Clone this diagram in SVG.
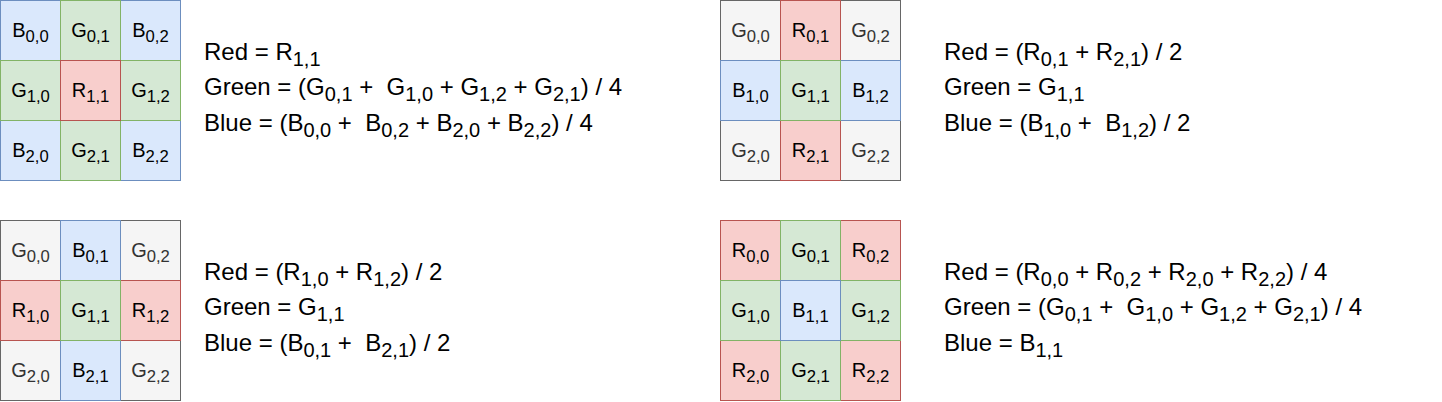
<svg xmlns="http://www.w3.org/2000/svg" width="1442" height="402" viewBox="0 0 1442 402">
<style>
rect{stroke-width:1}
.b{fill:#dae8fc;stroke:#6c8ebf}
.g{fill:#d5e8d4;stroke:#82b366}
.r{fill:#f8cecc;stroke:#b85450}
.n{fill:#f5f5f5;stroke:#666666}
text{font-family:"Liberation Sans",Arial,Helvetica,sans-serif}
.t{font-size:20px;text-anchor:middle;fill:#000000}
.tn{font-size:20px;text-anchor:middle;fill:#333333}
.s{font-size:16.67px}
.f{font-size:24px;fill:#000000}
.fs{font-size:20px}
</style>
<rect x="0" y="0" width="1442" height="402" fill="#ffffff"/>
<!-- Grid 1 -->
<g id="grid1">
<g id="g1-b00"><rect class="b" x="0.5" y="0.5" width="60" height="60"/><text class="t" x="30.5" y="37">B<tspan class="s" dy="5">0,0</tspan></text></g>
<g id="g1-b02"><rect class="b" x="120.5" y="0.5" width="60" height="60"/><text class="t" x="150.5" y="37">B<tspan class="s" dy="5">0,2</tspan></text></g>
<g id="g1-b20"><rect class="b" x="0.5" y="120.5" width="60" height="60"/><text class="t" x="30.5" y="157">B<tspan class="s" dy="5">2,0</tspan></text></g>
<g id="g1-b22"><rect class="b" x="120.5" y="120.5" width="60" height="60"/><text class="t" x="150.5" y="157">B<tspan class="s" dy="5">2,2</tspan></text></g>
<g id="g1-g01"><rect class="g" x="60.5" y="0.5" width="60" height="60"/><text class="t" x="90.5" y="37">G<tspan class="s" dy="5">0,1</tspan></text></g>
<g id="g1-g10"><rect class="g" x="0.5" y="60.5" width="60" height="60"/><text class="t" x="30.5" y="97">G<tspan class="s" dy="5">1,0</tspan></text></g>
<g id="g1-g12"><rect class="g" x="120.5" y="60.5" width="60" height="60"/><text class="t" x="150.5" y="97">G<tspan class="s" dy="5">1,2</tspan></text></g>
<g id="g1-g21"><rect class="g" x="60.5" y="120.5" width="60" height="60"/><text class="t" x="90.5" y="157">G<tspan class="s" dy="5">2,1</tspan></text></g>
<g id="g1-r11"><rect class="r" x="60.5" y="60.5" width="60" height="60"/><text class="t" x="90.5" y="97">R<tspan class="s" dy="5">1,1</tspan></text></g>
</g>
<!-- Grid 2 -->
<g id="grid2">
<g id="g2-g00"><rect class="n" x="720.5" y="0.5" width="60" height="60"/><text class="tn" x="750.5" y="37">G<tspan class="s" dy="5">0,0</tspan></text></g>
<g id="g2-g02"><rect class="n" x="840.5" y="0.5" width="60" height="60"/><text class="tn" x="870.5" y="37">G<tspan class="s" dy="5">0,2</tspan></text></g>
<g id="g2-g20"><rect class="n" x="720.5" y="120.5" width="60" height="60"/><text class="tn" x="750.5" y="157">G<tspan class="s" dy="5">2,0</tspan></text></g>
<g id="g2-g22"><rect class="n" x="840.5" y="120.5" width="60" height="60"/><text class="tn" x="870.5" y="157">G<tspan class="s" dy="5">2,2</tspan></text></g>
<g id="g2-r01"><rect class="r" x="780.5" y="0.5" width="60" height="60"/><text class="t" x="810.5" y="37">R<tspan class="s" dy="5">0,1</tspan></text></g>
<g id="g2-r21"><rect class="r" x="780.5" y="120.5" width="60" height="60"/><text class="t" x="810.5" y="157">R<tspan class="s" dy="5">2,1</tspan></text></g>
<g id="g2-b10"><rect class="b" x="720.5" y="60.5" width="60" height="60"/><text class="t" x="750.5" y="97">B<tspan class="s" dy="5">1,0</tspan></text></g>
<g id="g2-b12"><rect class="b" x="840.5" y="60.5" width="60" height="60"/><text class="t" x="870.5" y="97">B<tspan class="s" dy="5">1,2</tspan></text></g>
<g id="g2-g11"><rect class="g" x="780.5" y="60.5" width="60" height="60"/><text class="t" x="810.5" y="97">G<tspan class="s" dy="5">1,1</tspan></text></g>
</g>
<!-- Grid 3 -->
<g id="grid3">
<g id="g3-g00"><rect class="n" x="0.5" y="220.5" width="60" height="60"/><text class="tn" x="30.5" y="257">G<tspan class="s" dy="5">0,0</tspan></text></g>
<g id="g3-g02"><rect class="n" x="120.5" y="220.5" width="60" height="60"/><text class="tn" x="150.5" y="257">G<tspan class="s" dy="5">0,2</tspan></text></g>
<g id="g3-g20"><rect class="n" x="0.5" y="340.5" width="60" height="60"/><text class="tn" x="30.5" y="377">G<tspan class="s" dy="5">2,0</tspan></text></g>
<g id="g3-g22"><rect class="n" x="120.5" y="340.5" width="60" height="60"/><text class="tn" x="150.5" y="377">G<tspan class="s" dy="5">2,2</tspan></text></g>
<g id="g3-b01"><rect class="b" x="60.5" y="220.5" width="60" height="60"/><text class="t" x="90.5" y="257">B<tspan class="s" dy="5">0,1</tspan></text></g>
<g id="g3-b21"><rect class="b" x="60.5" y="340.5" width="60" height="60"/><text class="t" x="90.5" y="377">B<tspan class="s" dy="5">2,1</tspan></text></g>
<g id="g3-r10"><rect class="r" x="0.5" y="280.5" width="60" height="60"/><text class="t" x="30.5" y="317">R<tspan class="s" dy="5">1,0</tspan></text></g>
<g id="g3-r12"><rect class="r" x="120.5" y="280.5" width="60" height="60"/><text class="t" x="150.5" y="317">R<tspan class="s" dy="5">1,2</tspan></text></g>
<g id="g3-g11"><rect class="g" x="60.5" y="280.5" width="60" height="60"/><text class="t" x="90.5" y="317">G<tspan class="s" dy="5">1,1</tspan></text></g>
</g>
<!-- Grid 4 -->
<g id="grid4">
<g id="g4-r00"><rect class="r" x="720.5" y="220.5" width="60" height="60"/><text class="t" x="750.5" y="257">R<tspan class="s" dy="5">0,0</tspan></text></g>
<g id="g4-r02"><rect class="r" x="840.5" y="220.5" width="60" height="60"/><text class="t" x="870.5" y="257">R<tspan class="s" dy="5">0,2</tspan></text></g>
<g id="g4-r20"><rect class="r" x="720.5" y="340.5" width="60" height="60"/><text class="t" x="750.5" y="377">R<tspan class="s" dy="5">2,0</tspan></text></g>
<g id="g4-r22"><rect class="r" x="840.5" y="340.5" width="60" height="60"/><text class="t" x="870.5" y="377">R<tspan class="s" dy="5">2,2</tspan></text></g>
<g id="g4-g01"><rect class="g" x="780.5" y="220.5" width="60" height="60"/><text class="t" x="810.5" y="257">G<tspan class="s" dy="5">0,1</tspan></text></g>
<g id="g4-g10"><rect class="g" x="720.5" y="280.5" width="60" height="60"/><text class="t" x="750.5" y="317">G<tspan class="s" dy="5">1,0</tspan></text></g>
<g id="g4-g12"><rect class="g" x="840.5" y="280.5" width="60" height="60"/><text class="t" x="870.5" y="317">G<tspan class="s" dy="5">1,2</tspan></text></g>
<g id="g4-g21"><rect class="g" x="780.5" y="340.5" width="60" height="60"/><text class="t" x="810.5" y="377">G<tspan class="s" dy="5">2,1</tspan></text></g>
<g id="g4-b11"><rect class="b" x="780.5" y="280.5" width="60" height="60"/><text class="t" x="810.5" y="317">B<tspan class="s" dy="5">1,1</tspan></text></g>
</g>
<!-- Formulas -->
<g id="formula1">
<text class="f" x="204" y="59.5" xml:space="preserve">Red = R<tspan class="fs" dy="6">1,1</tspan></text>
<text class="f" x="204" y="95" xml:space="preserve">Green = (G<tspan class="fs" dy="6">0,1</tspan><tspan dy="-6"> +  G</tspan><tspan class="fs" dy="6">1,0</tspan><tspan dy="-6"> + G</tspan><tspan class="fs" dy="6">1,2</tspan><tspan dy="-6"> + G</tspan><tspan class="fs" dy="6">2,1</tspan><tspan dy="-6">) / 4</tspan></text>
<text class="f" x="204" y="130.5" xml:space="preserve">Blue = (B<tspan class="fs" dy="6">0,0</tspan><tspan dy="-6"> +  B</tspan><tspan class="fs" dy="6">0,2</tspan><tspan dy="-6"> + B</tspan><tspan class="fs" dy="6">2,0</tspan><tspan dy="-6"> + B</tspan><tspan class="fs" dy="6">2,2</tspan><tspan dy="-6">) / 4</tspan></text>
</g>
<g id="formula2">
<text class="f" x="944" y="59.5" xml:space="preserve">Red = (R<tspan class="fs" dy="6">0,1</tspan><tspan dy="-6"> + R</tspan><tspan class="fs" dy="6">2,1</tspan><tspan dy="-6">) / 2</tspan></text>
<text class="f" x="944" y="95" xml:space="preserve">Green = G<tspan class="fs" dy="6">1,1</tspan></text>
<text class="f" x="944" y="130.5" xml:space="preserve">Blue = (B<tspan class="fs" dy="6">1,0</tspan><tspan dy="-6"> +  B</tspan><tspan class="fs" dy="6">1,2</tspan><tspan dy="-6">) / 2</tspan></text>
</g>
<g id="formula3">
<text class="f" x="204" y="279.5" xml:space="preserve">Red = (R<tspan class="fs" dy="6">1,0</tspan><tspan dy="-6"> + R</tspan><tspan class="fs" dy="6">1,2</tspan><tspan dy="-6">) / 2</tspan></text>
<text class="f" x="204" y="315" xml:space="preserve">Green = G<tspan class="fs" dy="6">1,1</tspan></text>
<text class="f" x="204" y="350.5" xml:space="preserve">Blue = (B<tspan class="fs" dy="6">0,1</tspan><tspan dy="-6"> +  B</tspan><tspan class="fs" dy="6">2,1</tspan><tspan dy="-6">) / 2</tspan></text>
</g>
<g id="formula4">
<text class="f" x="944" y="279.5" xml:space="preserve">Red = (R<tspan class="fs" dy="6">0,0</tspan><tspan dy="-6"> + R</tspan><tspan class="fs" dy="6">0,2</tspan><tspan dy="-6"> + R</tspan><tspan class="fs" dy="6">2,0</tspan><tspan dy="-6"> + R</tspan><tspan class="fs" dy="6">2,2</tspan><tspan dy="-6">) / 4</tspan></text>
<text class="f" x="944" y="315" xml:space="preserve">Green = (G<tspan class="fs" dy="6">0,1</tspan><tspan dy="-6"> +  G</tspan><tspan class="fs" dy="6">1,0</tspan><tspan dy="-6"> + G</tspan><tspan class="fs" dy="6">1,2</tspan><tspan dy="-6"> + G</tspan><tspan class="fs" dy="6">2,1</tspan><tspan dy="-6">) / 4</tspan></text>
<text class="f" x="944" y="350.5" xml:space="preserve">Blue = B<tspan class="fs" dy="6">1,1</tspan></text>
</g>
</svg>
